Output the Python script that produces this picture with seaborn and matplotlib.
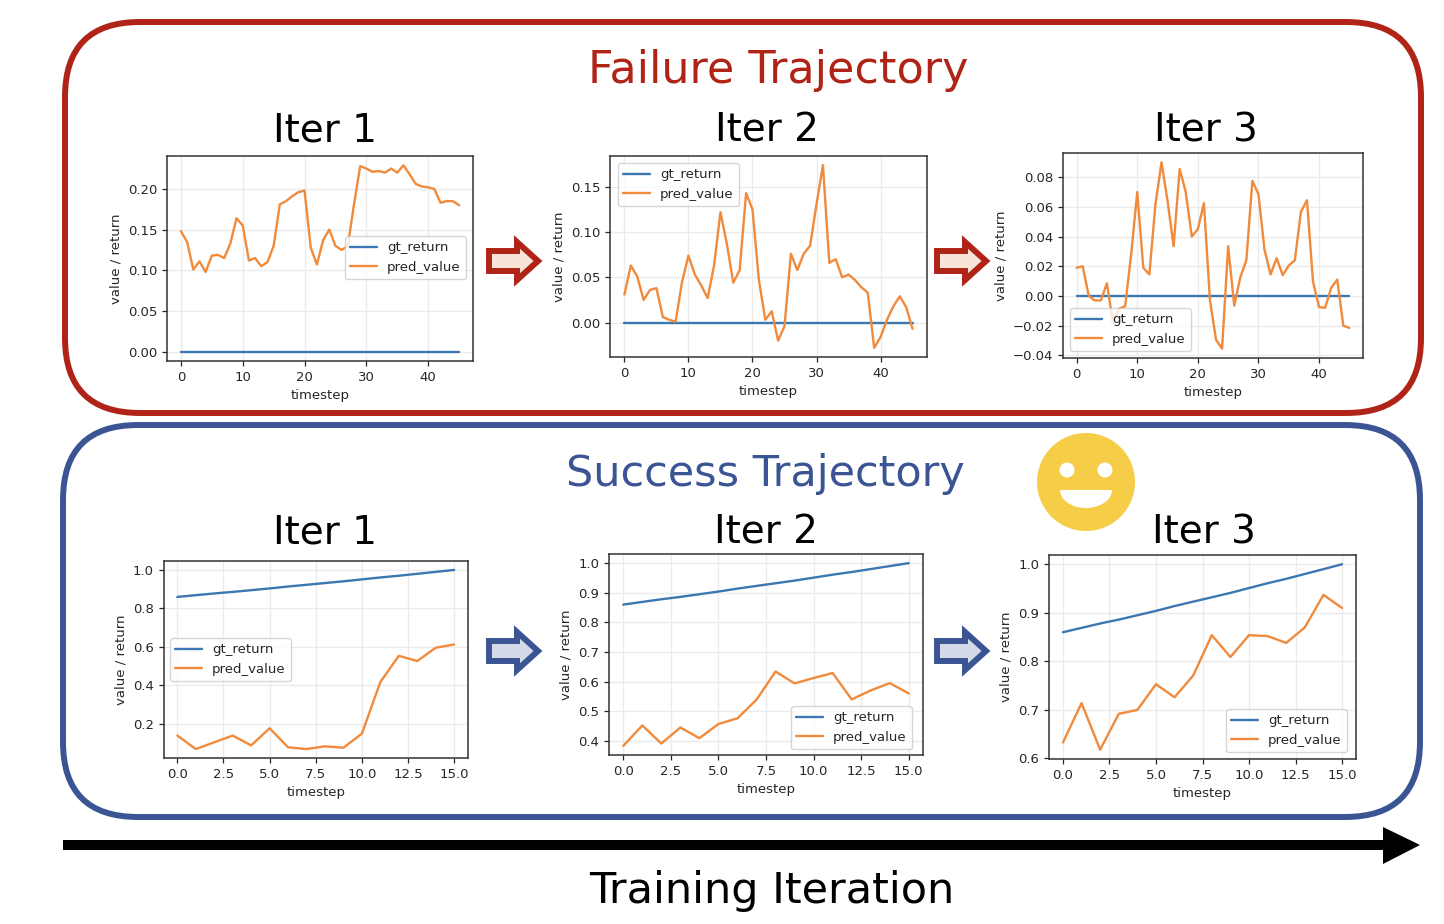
import matplotlib.pyplot as plt
import numpy as np
import pandas as pd
import seaborn as sns
from matplotlib.patches import Circle, FancyBboxPatch, Polygon

# %% values

fail_steps = list(range(46))
success_steps = list(range(16))

fail_gt = [0.0] * 46
fail1_pred = [.148, .135, .101, .111, .098, .118, .119, .115, .133, .164, .155, .112, .115, .105, .110, .130,
              .181, .185, .191, .196, .198, .128, .107, .137, .150, .130, .125, .130, .181, .228, .225, .221,
              .222, .220, .225, .220, .229, .218, .206, .203, .202, .200, .183, .185, .185, .180]
fail2_pred = [.031, .063, .051, .025, .036, .038, .006, .003, .001, .045, .074, .053, .041, .027, .063, .122,
              .087, .044, .058, .143, .125, .047, .003, .0125, -.020, -.004, .076, .058, .076, .085, .131, .174,
              .066, .070, .050, .053, .047, .039, .033, -.028, -.016, .003, .018, .029, .017, -.007]
fail3_pred = [.019, .020, .000, -.003, -.003, .0085, -.0185, -.0085, -.007, .028, .070, .019, .0145, .0615,
              .090, .064, .0335, .0855, .070, .040, .045, .0625, -.003, -.0295, -.0355, .0335, -.0065, .0125,
              .024, .0775, .0685, .031, .0145, .0255, .014, .0205, .024, .0565, .0645, .0098, -.0075, -.008,
              .0055, .011, -.020, -.0215]

success_gt = [.860, .869, .878, .886, .895, .904, .914, .923, .932, .941, .951, .961, .970, .980, .990, 1.0]
success1_pred = [.14, .07, .105, .14, .089, .178, .079, .07, .084, .077, .15, .418, .554, .527, .596, .613]
success2_pred = [.383, .452, .391, .445, .409, .457, .476, .539, .634, .594, .612, .629, .540, .570, .595, .560]
success3_pred = [.633, .714, .618, .692, .700, .753, .726, .771, .854, .809, .854, .852, .838, .870, .937, .910]

# %% style

W, H = 1444, 924
RED = "#b02418"
BLUE = "#3b5594"
BLACK = "#000000"
TITLE_FONT = "DejaVu Sans"

sns.set_theme(
    style="ticks",
    rc={
        "axes.grid": True,
        "grid.color": "#ebebeb",
        "grid.linewidth": 1.0,
        "axes.edgecolor": "#333333",
        "axes.linewidth": 1.1,
        "text.color": "#262626",
        "axes.labelcolor": "#262626",
        "xtick.color": "#262626",
        "ytick.color": "#262626",
        "xtick.labelsize": 9.5,
        "ytick.labelsize": 9.5,
        "axes.labelsize": 9.5,
        "legend.fontsize": 9.5,
    },
)
palette = {"gt_return": "#3b77b0", "pred_value": "#f08a3c"}

fig = plt.figure(figsize=(W / 100, H / 100), dpi=100, facecolor="w")


def px_axes(left, top, right, bottom):
    return fig.add_axes([left / W, 1 - bottom / H, (right - left) / W, (bottom - top) / H])


# %% background drawing in pixel coordinates

bg = fig.add_axes([0, 0, 1, 1], zorder=0)
bg.set_xlim(0, W)
bg.set_ylim(H, 0)
bg.axis("off")
bg.grid(False)

for (x0, y0, x1, y1, color) in [(65, 22, 1421, 413, RED), (63, 425, 1420, 817, BLUE)]:
    bg.add_patch(
        FancyBboxPatch(
            (x0 + 75, y0 + 75), x1 - x0 - 150, y1 - y0 - 150,
            boxstyle="round,pad=75,rounding_size=75",
            fc="none", ec=color, lw=4.3,
        )
    )


def block_arrow(x, y, color, fill):
    pts = [(x + 2, y - 10), (x + 30, y - 10), (x + 30, y - 19), (x + 51, y), (x + 30, y + 19), (x + 30, y + 10), (x + 2, y + 10)]
    bg.add_patch(Polygon(pts, closed=True, fc=fill, ec=color, lw=4.3, joinstyle="miter"))


block_arrow(487, 261, RED, "#f8e4d8")
block_arrow(935, 261, RED, "#f8e4d8")
block_arrow(487, 651, BLUE, "#d5dae8")
block_arrow(935, 651, BLUE, "#d5dae8")

bg.add_patch(
    Polygon([(63, 840), (1383, 840), (1383, 827), (1420, 845), (1383, 864), (1383, 850), (63, 850)], closed=True, fc=BLACK, ec="none")
)

# smiley
bg.add_patch(Circle((1086, 482), 49, fc="#f5cd47", ec="none"))
bg.add_patch(Circle((1067, 470), 7.5, fc="w", ec="none"))
bg.add_patch(Circle((1105, 470), 7.5, fc="w", ec="none"))
theta = np.linspace(0, np.pi, 40)
bg.add_patch(Polygon(np.c_[1086 + 26 * np.cos(theta), 490 + 18 * np.sin(theta)], closed=True, fc="w", ec="none"))

bg.text(778, 70, "Failure Trajectory", color=RED, fontsize=32, ha="center", va="center", family=TITLE_FONT)
bg.text(765, 474, "Success Trajectory", color=BLUE, fontsize=31, ha="center", va="center", family=TITLE_FONT)
bg.text(772, 891, "Training Iteration", color=BLACK, fontsize=31, ha="center", va="center", family=TITLE_FONT)
for (x, y, s) in [(325, 131, "Iter 1"), (767, 131, "Iter 2"), (1206, 131, "Iter 3"),
                  (325, 533, "Iter 1"), (766, 533, "Iter 2"), (1204, 533, "Iter 3")]:
    bg.text(x, y, s, color=BLACK, fontsize=28, ha="center", va="center", family=TITLE_FONT)


# %% the six line panels


def panel(box, legend_xy, steps, gt, pred):
    ax = px_axes(*box)
    ax.set_zorder(2)
    df = pd.DataFrame({"timestep": steps, "gt_return": gt, "pred_value": pred})
    df = df.melt("timestep", var_name="series", value_name="value")
    sns.lineplot(data=df, x="timestep", y="value", hue="series", palette=palette,
                 estimator=None, errorbar=None, lw=1.7, ax=ax)
    ax.set_xlabel("timestep")
    ax.set_ylabel("value / return")
    ax.tick_params(length=3.5, width=0.9, pad=3.5)
    handles, labels = ax.get_legend_handles_labels()
    ax.legend(
        handles, labels, title=None,
        loc="upper left", borderaxespad=0,
        bbox_to_anchor=(legend_xy[0] / W, 1 - legend_xy[1] / H),
        bbox_transform=fig.transFigure,
        frameon=True, framealpha=0.8, edgecolor="#cccccc",
    )
    return ax


panel((167, 156, 473, 361), (345, 236), fail_steps, fail_gt, fail1_pred)
panel((610, 156, 927, 357), (618, 163), fail_steps, fail_gt, fail2_pred)
panel((1063, 153, 1363, 358), (1070, 308), fail_steps, fail_gt, fail3_pred)
panel((163.5, 561, 468, 758), (170, 638), success_steps, success_gt, success1_pred)
panel((609, 554, 923, 755), (791, 706), success_steps, success_gt, success2_pred)
panel((1049, 555, 1356, 759), (1226, 709), success_steps, success_gt, success3_pred)

fig.savefig("out.png", dpi=100, facecolor="w")
